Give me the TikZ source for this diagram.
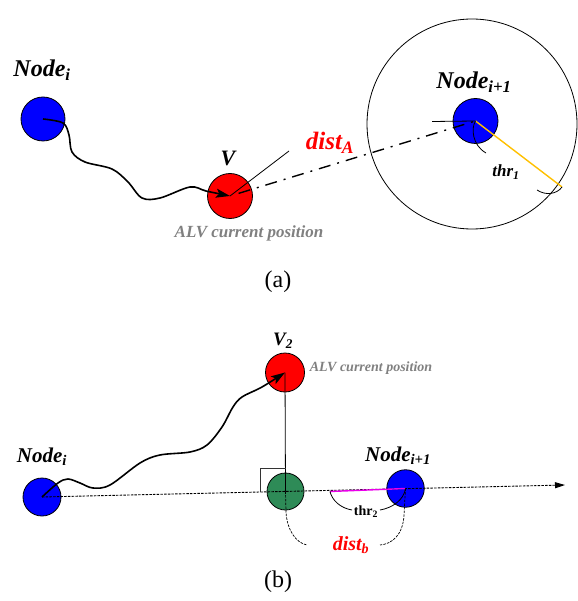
\documentclass[tikz,border=0pt]{standalone}
\usepackage{fontspec}
\setmainfont{Liberation Serif}
\usetikzlibrary{arrows.meta}
\definecolor{nblue}{RGB}{0,0,255}
\definecolor{nred}{RGB}{255,0,0}
\definecolor{ngreen}{RGB}{46,139,87}
\definecolor{nyellow}{RGB}{255,192,0}
\definecolor{nmag}{RGB}{235,0,235}
\definecolor{ngray}{RGB}{128,128,128}
\begin{document}
\begin{tikzpicture}[x=1pt,y=-1pt,
  disc/.style={circle,draw=black,line width=0.8pt,inner sep=0pt},
  lbl/.style={inner sep=0pt,font=\bfseries\itshape},
  wave/.style={line width=1.6pt,-{Stealth[length=14pt,width=9pt,inset=3pt]}},
  thin/.style={line width=0.8pt},
  dashdot/.style={line width=1.4pt,dash pattern=on 12pt off 7pt on 2pt off 7pt},
  fine/.style={line width=0.9pt,dash pattern=on 2.5pt off 1.2pt},
]
\useasboundingbox (0,0) rectangle (577,601);
% ---------- (a) ----------
\node[disc,fill=nblue,minimum size=44pt] (ni) at (43,119) {};
\node[disc,fill=nred,minimum size=45pt] (v) at (230,196) {};
\node[disc,fill=nblue,minimum size=45pt] (nj) at (475.5,121) {};
\node[circle,draw=black,line width=0.8pt,inner sep=0pt,minimum size=210pt] (big) at (472,124) {};
\coordinate (ldA) at (289,151);
\coordinate (hl) at (432,121.5);
\coordinate (rim) at (562,187);

\draw[wave] plot[smooth,tension=0.55] coordinates {(ni.center) (63,123) (69,135) (72,152) (85,162) (112,169) (128,182) (142,198) (160,198) (190,187) (206,191) (v.center)};
\draw[thin] (v.center) -- (ldA);
\draw[dashdot,shorten <=9pt] (v.center) -- (nj.center);
\draw[thin] (hl) -- (nj.center);
\draw[nyellow,line width=1.4pt] (nj.center) -- (rim);
\draw[thin] (nj.center) .. controls (471,128) and (472,145) .. (486,153);
\draw[thin] (537,190) .. controls (546,196) and (557,194) .. (rim);

\node[lbl,font=\fontsize{24}{26}\selectfont\bfseries\itshape] (tni) at (42,70) {Node\textsubscript{i}};
\node[lbl,font=\fontsize{24}{26}\selectfont\bfseries\itshape] (tnj) at (474,82) {Node\textsubscript{i+1}};
\node[lbl,font=\fontsize{22}{24}\selectfont\bfseries\itshape] (tv) at (228,158) {V};
\node[lbl,text=nred,font=\fontsize{25}{27}\selectfont\bfseries\itshape] (tda) at (330,143) {dist\textsubscript{A}};
\node[lbl,font=\fontsize{17}{19}\selectfont\bfseries\itshape] (tthr1) at (506,172) {thr\textsubscript{1}};
\node[lbl,text=ngray,font=\fontsize{17}{19}\selectfont\bfseries\itshape] (talv) at (249,233) {ALV current position};
\node[inner sep=0pt,font=\fontsize{24}{26}\selectfont] (ta) at (278,282) {(a)};

% ---------- (b) ----------
\node[disc,fill=nblue,minimum size=38pt] (ni2) at (42,497) {};
\node[disc,fill=nred,minimum size=39pt] (v2) at (285,372.5) {};
\node[disc,fill=ngreen,minimum size=37pt] (g) at (285.5,491.5) {};
\node[disc,fill=nblue,minimum size=37.5pt] (nj2) at (405.5,488.5) {};
\coordinate (axend) at (565,485);
\coordinate (ra) at (260,468);
\coordinate (mg) at (330,491.5);

\draw[fine,-{Triangle[length=10pt,width=6pt]}] (ni2.center) -- (axend);
\draw[wave] plot[smooth,tension=0.55] coordinates {(ni2.center) (58,483) (68,479) (80,483) (93,488) (110,485) (140,463) (160,455) (190,452) (207,445) (222,427) (233,407) (242,397) (262,387) (v2.center)};
\draw[thin] (v2.center) -- (g.center);
\draw[line width=0.8pt,black!80] (g.center |- ra) -- (ra) -- (ra |- g.center);
\draw[nmag,line width=1.4pt] (mg) -- (nj2.center);
\draw[thin] (mg) .. controls (332,500) and (340,508) .. (352,510);
\draw[thin] (380,510) .. controls (392,508) and (404,500) .. (nj2.center);
\draw[fine,line width=0.7pt] (g.center) -- (286,512) .. controls (287,530) and (296,543) .. (307,545);
\draw[fine,line width=0.7pt] (nj2.center) -- (404,515) .. controls (403,535) and (392,544) .. (380,545);

\node[lbl,font=\fontsize{21}{23}\selectfont\bfseries\itshape] (tni2) at (42,457) {Node\textsubscript{i}};
\node[lbl,font=\fontsize{21}{23}\selectfont\bfseries\itshape] (tnj2) at (398,456) {Node\textsubscript{i+1}};
\node[lbl,font=\fontsize{19}{21}\selectfont\bfseries\itshape] (tv2) at (283,341) {V\textsubscript{2}};
\node[lbl,text=ngray,font=\fontsize{14}{16}\selectfont\bfseries\itshape] (talv2) at (371,368) {ALV current position};
\node[inner sep=0pt,font=\fontsize{14}{16}\selectfont\bfseries] (tthr2) at (366,512) {thr\textsubscript{2}};
\node[lbl,text=nred,font=\fontsize{20}{22}\selectfont\bfseries\itshape] (tdb) at (351,545) {dist\textsubscript{b}};
\node[inner sep=0pt,font=\fontsize{24}{26}\selectfont] (tb) at (278,582) {(b)};
\end{tikzpicture}
\end{document}
